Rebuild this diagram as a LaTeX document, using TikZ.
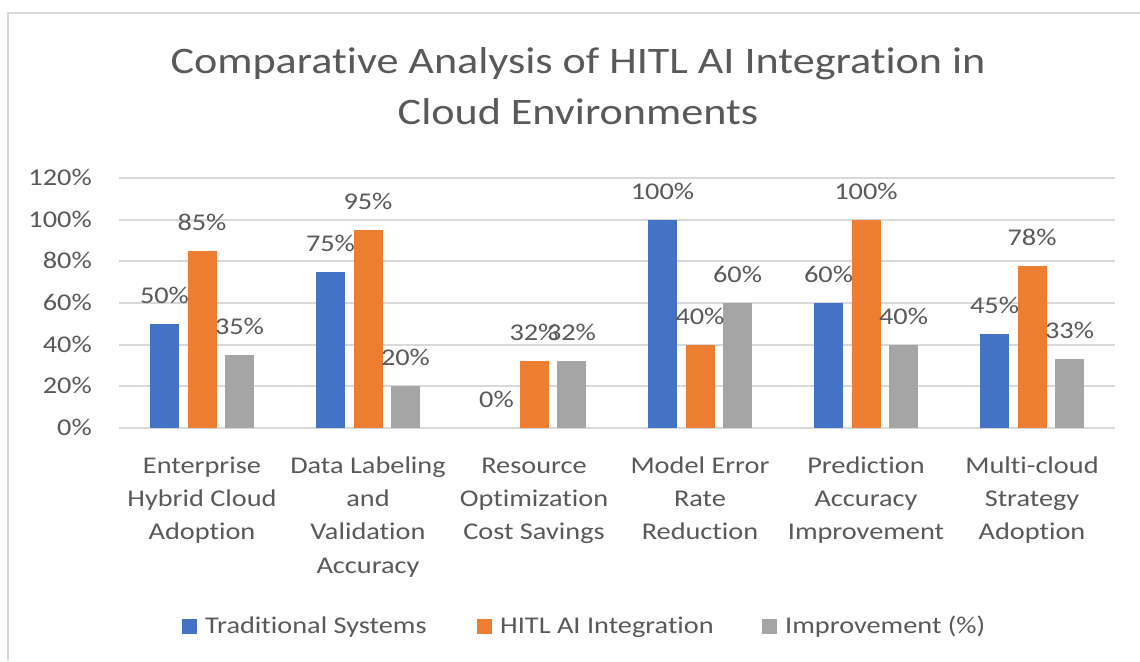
\documentclass[tikz,border=0pt]{standalone}
\usepackage{fontspec}
\setmainfont[FakeStretch=1.18,Ligatures={NoCommon,NoContextual},Contextuals=NoAlternate]{Carlito}
\newcommand{\nolig}{\kern0pt}
\definecolor{tradblue}{HTML}{4472C4}
\definecolor{hitlorange}{HTML}{ED7D31}
\definecolor{impgray}{HTML}{A5A5A5}
\definecolor{gridgray}{HTML}{D9D9D9}
\definecolor{txtgray}{HTML}{595959}
\tikzset{
  gridline/.style={draw=gridgray, line width=2pt},
  framestyle/.style={draw=gridgray, line width=2pt},
  titletext/.style={text=txtgray, inner sep=0pt, anchor=base, font=\fontsize{37.4}{45}\selectfont},
  axlabel/.style={text=txtgray, inner sep=0pt, anchor=base east, font=\fontsize{24}{29}\selectfont},
  dlabel/.style={text=txtgray, inner sep=0pt, anchor=base, font=\fontsize{24}{29}\selectfont},
  catlabel/.style={text=txtgray, inner sep=0pt, anchor=north, align=center, font=\fontsize{24}{33.3}\selectfont},
  legsq/.style={inner sep=0pt, minimum size=14.5pt, draw=none},
  legtext/.style={text=txtgray, inner sep=0pt, anchor=west, font=\fontsize{24}{29}\selectfont},
  barblue/.style={fill=tradblue},
  barorange/.style={fill=hitlorange},
  bargray/.style={fill=impgray},
}
\begin{document}
\begin{tikzpicture}[x=1pt,y=-1pt]
\useasboundingbox (0,0) rectangle (1140,661);
\fill[white] (0,0) rectangle (1140,661);
% chart frame (left and top edges visible)
\draw[framestyle] (8,661) -- (8,13) -- (1140,13);
% title
\node[titletext] (title1) at (578,74) {Comparat\nolig ive Analysis of HITL AI Integrat\nolig ion in};
\node[titletext] (title2) at (578,124) {Cloud Environments};
% gridlines and axis labels
\foreach \k/\lab in {0/0,1/20,2/40,3/60,4/80,5/100,6/120}{
  \pgfmathsetmacro{\gy}{428-\k*125/3}
  \draw[gridline] (119,\gy) -- (1115,\gy);
  \node[axlabel] (ax\k) at (92,\gy+7.6) {\lab\%};
}
% bars and data labels
\foreach \i/\va/\vb/\vc in {1/50/85/35,2/75/95/20,3/0/32/32,4/100/40/60,5/60/100/40,6/45/78/33}{
  \pgfmathsetmacro{\cx}{119+166*(\i-0.5)}
  \pgfmathsetmacro{\ya}{428-\va*25/12}
  \pgfmathsetmacro{\yb}{428-\vb*25/12}
  \pgfmathsetmacro{\yc}{428-\vc*25/12}
  \ifnum\va>0 \fill[barblue] (\cx-37.5-14.5,428) rectangle (\cx-37.5+14.5,\ya);\fi
  \fill[barorange] (\cx-14.5,428) rectangle (\cx+14.5,\yb);
  \fill[bargray] (\cx+37.5-14.5,428) rectangle (\cx+37.5+14.5,\yc);
  \node[dlabel] (la\i) at (\cx-37.5,\ya-20.5) {\va\%};
  \node[dlabel] (lb\i) at (\cx,\yb-20.5) {\vb\%};
  \node[dlabel] (lc\i) at (\cx+37.5,\yc-20.5) {\vc\%};
}
% category labels
\node[catlabel] (cat1) at (202,449.7) {\strut Enterprise\\Hybrid Cloud\\Adopt\nolig ion};
\node[catlabel] (cat2) at (368,449.7) {\strut Data Labeling\\and\\Validat\nolig ion\\Accuracy};
\node[catlabel] (cat3) at (534,449.7) {\strut Resource\\Opt\nolig imizat\nolig ion\\Cost Savings};
\node[catlabel] (cat4) at (700,449.7) {\strut Model Error\\Rate\\Reduct\nolig ion};
\node[catlabel] (cat5) at (866,449.7) {\strut Predict\nolig ion\\Accuracy\\Improvement};
\node[catlabel] (cat6) at (1032,449.7) {\strut Mult\nolig i-cloud\\Strategy\\Adopt\nolig ion};
% legend
\node[legsq, fill=tradblue] (lsq1) at (189.5,626.5) {};
\node[legtext] (lt1) at (205,627) {Tradit\nolig ional Systems};
\node[legsq, fill=hitlorange] (lsq2) at (484.5,626.5) {};
\node[legtext] (lt2) at (500,627) {HITL AI Integrat\nolig ion};
\node[legsq, fill=impgray] (lsq3) at (769.5,626.5) {};
\node[legtext] (lt3) at (785,627) {Improvement (\%)};
\end{tikzpicture}
\end{document}
